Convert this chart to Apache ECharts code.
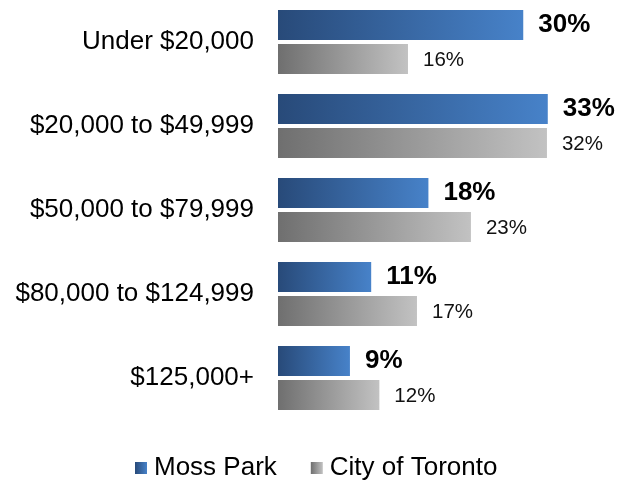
<!DOCTYPE html>
<html>
<head>
<meta charset="utf-8">
<script src="https://cdn.jsdelivr.net/npm/echarts@6/dist/echarts.min.js"></script>
<style>html,body{margin:0;padding:0;background:#fff}#c{width:619px;height:482px}</style>
</head>
<body>
<div id="c"></div>
<script>
const categories = ['Under $20,000', '$20,000 to $49,999', '$50,000 to $79,999', '$80,000 to $124,999', '$125,000+'];
// bar lengths as drawn in the picture (percent)
const mossPark = [30, 33, 18.4, 11.4, 8.8];
const toronto = [15.9, 32.9, 23.6, 17.0, 12.4];
// value labels as printed in the picture
const mossParkLabels = ['30%', '33%', '18%', '11%', '9%'];
const torontoLabels = ['16%', '32%', '23%', '17%', '12%'];
const seriesNames = ['Moss Park', 'City of Toronto'];

const FONT = '"Liberation Sans", Arial, sans-serif';
const chart = echarts.init(document.getElementById('c'), null, {renderer: 'canvas'});
const blue = new echarts.graphic.LinearGradient(0, 0, 1, 0, [
  {offset: 0, color: '#284a79'}, {offset: 1, color: '#4782c9'}]);
const gray = new echarts.graphic.LinearGradient(0, 0, 1, 0, [
  {offset: 0, color: '#6f6f6f'}, {offset: 1, color: '#c2c2c2'}]);
chart.setOption({
  animation: false,
  textStyle: {fontFamily: FONT},
  grid: {left: 278, right: 14, top: 0, bottom: 62, containLabel: false, outerBoundsMode: 'none'},
  legend: {
    top: 455, left: 135, itemWidth: 12, itemHeight: 12, itemGap: 34,
    icon: 'rect', padding: 0,
    textStyle: {fontFamily: FONT, fontSize: 26, color: '#000', padding: [0, 0, 0, 2]},
    data: seriesNames
  },
  xAxis: {type: 'value', min: 0, max: 40, show: false},
  yAxis: {
    type: 'category', data: categories, inverse: true,
    axisLine: {show: false}, axisTick: {show: false},
    axisLabel: {fontFamily: FONT, fontSize: 26, color: '#000', margin: 24}
  },
  series: [
    {
      name: seriesNames[0], type: 'bar', data: mossPark, barWidth: 30, barGap: '13%',
      itemStyle: {color: blue},
      label: {show: true, position: 'right', distance: 15,
        formatter: p => mossParkLabels[p.dataIndex],
        fontFamily: FONT, fontSize: 26, fontWeight: 'bold', color: '#000'}
    },
    {
      name: seriesNames[1], type: 'bar', data: toronto, barWidth: 30, barGap: '13%',
      itemStyle: {color: gray},
      label: {show: true, position: 'right', distance: 15,
        formatter: p => torontoLabels[p.dataIndex],
        fontFamily: FONT, fontSize: 20.5, color: '#111', offset: [0, 1]}
    }
  ]
});
</script>
</body>
</html>
